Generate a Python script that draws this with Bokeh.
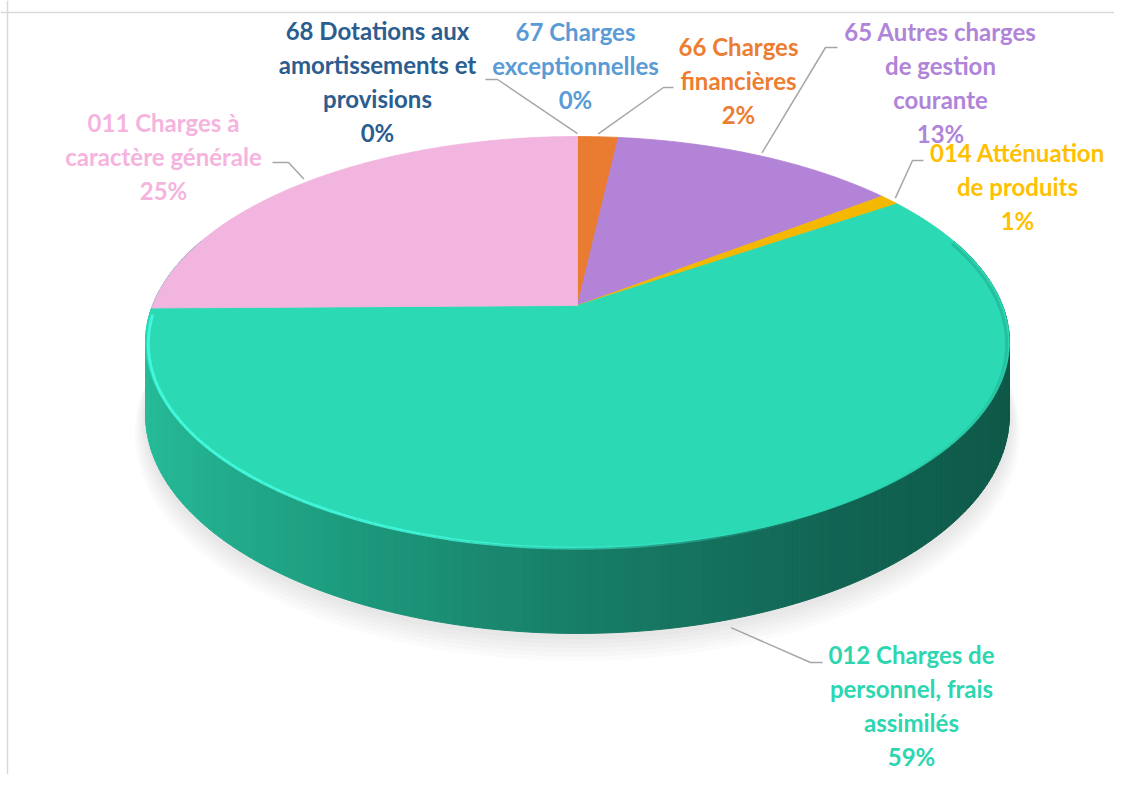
import numpy as np
from bokeh.plotting import figure
from bokeh.models import Range1d, Span, ColumnDataSource
from bokeh.core.properties import value
from bokeh.embed import file_html
from bokeh.resources import INLINE

# ---------------- data ----------------
categories = [
    "68 Dotations aux amortissements et provisions",
    "67 Charges exceptionnelles",
    "66 Charges financières",
    "65 Autres charges de gestion courante",
    "014 Atténuation de produits",
    "012 Charges de personnel, frais assimilés",
    "011 Charges à caractère générale",
]
label_text = [
    "68 Dotations aux\namortissements et\nprovisions",
    "67 Charges\nexceptionnelles",
    "66 Charges\nfinancières",
    "65 Autres charges\nde gestion\ncourante",
    "014 Atténuation\nde produits",
    "012 Charges de\npersonnel, frais\nassimilés",
    "011 Charges à\ncaractère générale",
]
shares = [0.0, 0.0, 1.8, 12.8, 0.9, 59.3, 25.2]
slice_colors = ["#2b5d8f", "#5b9bd5", "#e97c30", "#b283d6", "#f5b800", "#2bd9b4", "#f2b5df"]
label_colors = ["#2b5d8f", "#5b9bd5", "#ed7d31", "#b084d8", "#ffc000", "#2cd6b0", "#f5b3de"]

# ---------------- layout (pixel space) ----------------
X0, Y0 = 577.0, 305.0        # projected pie centre
A, B = 425.0, 199.0          # projected radii
K = 0.1776                   # perspective factor
H = 70.7                     # thickness

label_pos = [(377, 81), (575, 65), (738, 80), (940, 82), (1017, 186), (911, 705), (163, 156)]
elbows = [((497, 79), (485, 79)), None, ((663, 87), (673, 87)), ((825, 47), (837, 47)),
          ((912, 160), (923, 160)), ((810, 662), (822, 662)), ((288, 162), (272, 162))]


def proj(theta_deg, r=1.0, z=0.0):
    t = np.radians(theta_deg)
    u = r * np.sin(t)
    v = r * np.cos(t)
    w = 1 + K * v
    return X0 + A * u / w, Y0 - B * v / w + H * z / w


p = figure(width=1114, height=774, output_backend="svg", toolbar_location=None,
           x_range=Range1d(0, 1114), y_range=Range1d(774, 0), min_border=0)
p.axis.visible = False
p.grid.visible = False
p.outline_line_color = None
p.background_fill_color = "white"
p.add_layout(Span(location=12, dimension="width", line_color="#d9d9d9", line_width=1.5))
p.add_layout(Span(location=7, dimension="height", line_color="#d9d9d9", line_width=1.5))

# ---- shadow ----
th_all = np.linspace(0, 360, 361)
for i in range(6):
    r = 1.0 + 0.004 * (6 - i)
    z = 1.02 + 0.035 * (6 - i)
    sx, sy = proj(th_all, r=r, z=z)
    p.patch(list(sx), list(sy), fill_color="#8c8c8c", fill_alpha=0.035, line_color=None)

# ---- side wall ----
cum = np.concatenate([[0], np.cumsum(shares)]) / np.sum(shares) * 360.0
grad_u = np.array([-1.0, -0.5, 0.0, 0.5, 1.0])
grad_rgb = np.array([[40, 190, 155], [30, 158, 128], [24, 126, 104], [18, 101, 84], [15, 88, 72]])


def side_color(u):
    c = [int(np.interp(u, grad_u, grad_rgb[:, j])) for j in range(3)]
    return "#%02x%02x%02x" % tuple(c)


strips = []
th = np.arange(70, 291, 1.0)
for a0, a1 in zip(th[:-1], th[1:]):
    tx, ty = proj(np.array([a0, a1]), z=0)
    bx, by = proj(np.array([a1, a0]), z=1)
    mid = 0.5 * (a0 + a1)
    u = np.sin(np.radians(mid))
    v = np.cos(np.radians(mid))
    strips.append((v, list(np.concatenate([tx, bx])), list(np.concatenate([ty, by])), side_color(u)))
strips.sort(key=lambda s: -s[0])
p.patches([s[1] for s in strips], [s[2] for s in strips],
          fill_color=[s[3] for s in strips], line_color=[s[3] for s in strips], line_width=1)

# ---- top face ----
xs, ys, cs = [], [], []
for i, s in enumerate(shares):
    if s <= 0:
        continue
    n = max(int((cum[i + 1] - cum[i]) / 0.5), 3)
    arc = np.linspace(cum[i], cum[i + 1], n)
    ax, ay = proj(arc)
    xs.append([X0] + list(ax))
    ys.append([Y0] + list(ay))
    cs.append(slice_colors[i])
p.patches(xs, ys, fill_color=cs, line_color=cs, line_width=0.8)

# ---- rim highlight / edge shading ----
rth = np.arange(70, 269, 2.0)
seg_x, seg_y, seg_c, seg_a = [], [], [], []
for a0, a1 in zip(rth[:-1], rth[1:]):
    hx, hy = proj(np.array([a0, a1]), r=0.994, z=0.03)
    mid = 0.5 * (a0 + a1)
    if mid > 150:
        seg_c.append("#45fde0")
        seg_a.append(float(np.clip((mid - 150) / 50, 0, 1) * 0.85))
    else:
        seg_c.append("#1f9f82")
        seg_a.append(float(np.clip((150 - mid) / 50, 0, 1) * 0.45))
    seg_x.append(list(hx))
    seg_y.append(list(hy))
p.multi_line(seg_x, seg_y, line_color=seg_c, line_alpha=seg_a, line_width=3)

# ---- leader lines ----
lx, ly = [], []
for i, e in enumerate(elbows):
    if e is None:
        continue
    mid = 0.5 * (cum[i] + cum[i + 1])
    if np.cos(np.radians(mid)) < -0.3:
        axp, ayp = proj(mid, r=1.0, z=1.1)
    else:
        axp, ayp = proj(mid, r=1.02)
    lx.append([float(axp), e[0][0], e[1][0]])
    ly.append([float(ayp), e[0][1], e[1][1]])
p.multi_line(lx, ly, line_color="#a6a6a6", line_width=1.5)

# ---- labels ----
texts = ["%s\n%d%%" % (t, round(s)) for t, s in zip(label_text, shares)]
src = ColumnDataSource(dict(x=[q[0] for q in label_pos], y=[q[1] for q in label_pos],
                            text=texts, color=label_colors))
p.text(x="x", y="y", text="text", source=src, text_color="color",
       text_font=value("Lato"), text_font_style="bold", text_font_size="24px",
       text_align="center", text_baseline="middle", text_line_height=1.18)

open("out.html", "w").write(file_html(p, INLINE))
